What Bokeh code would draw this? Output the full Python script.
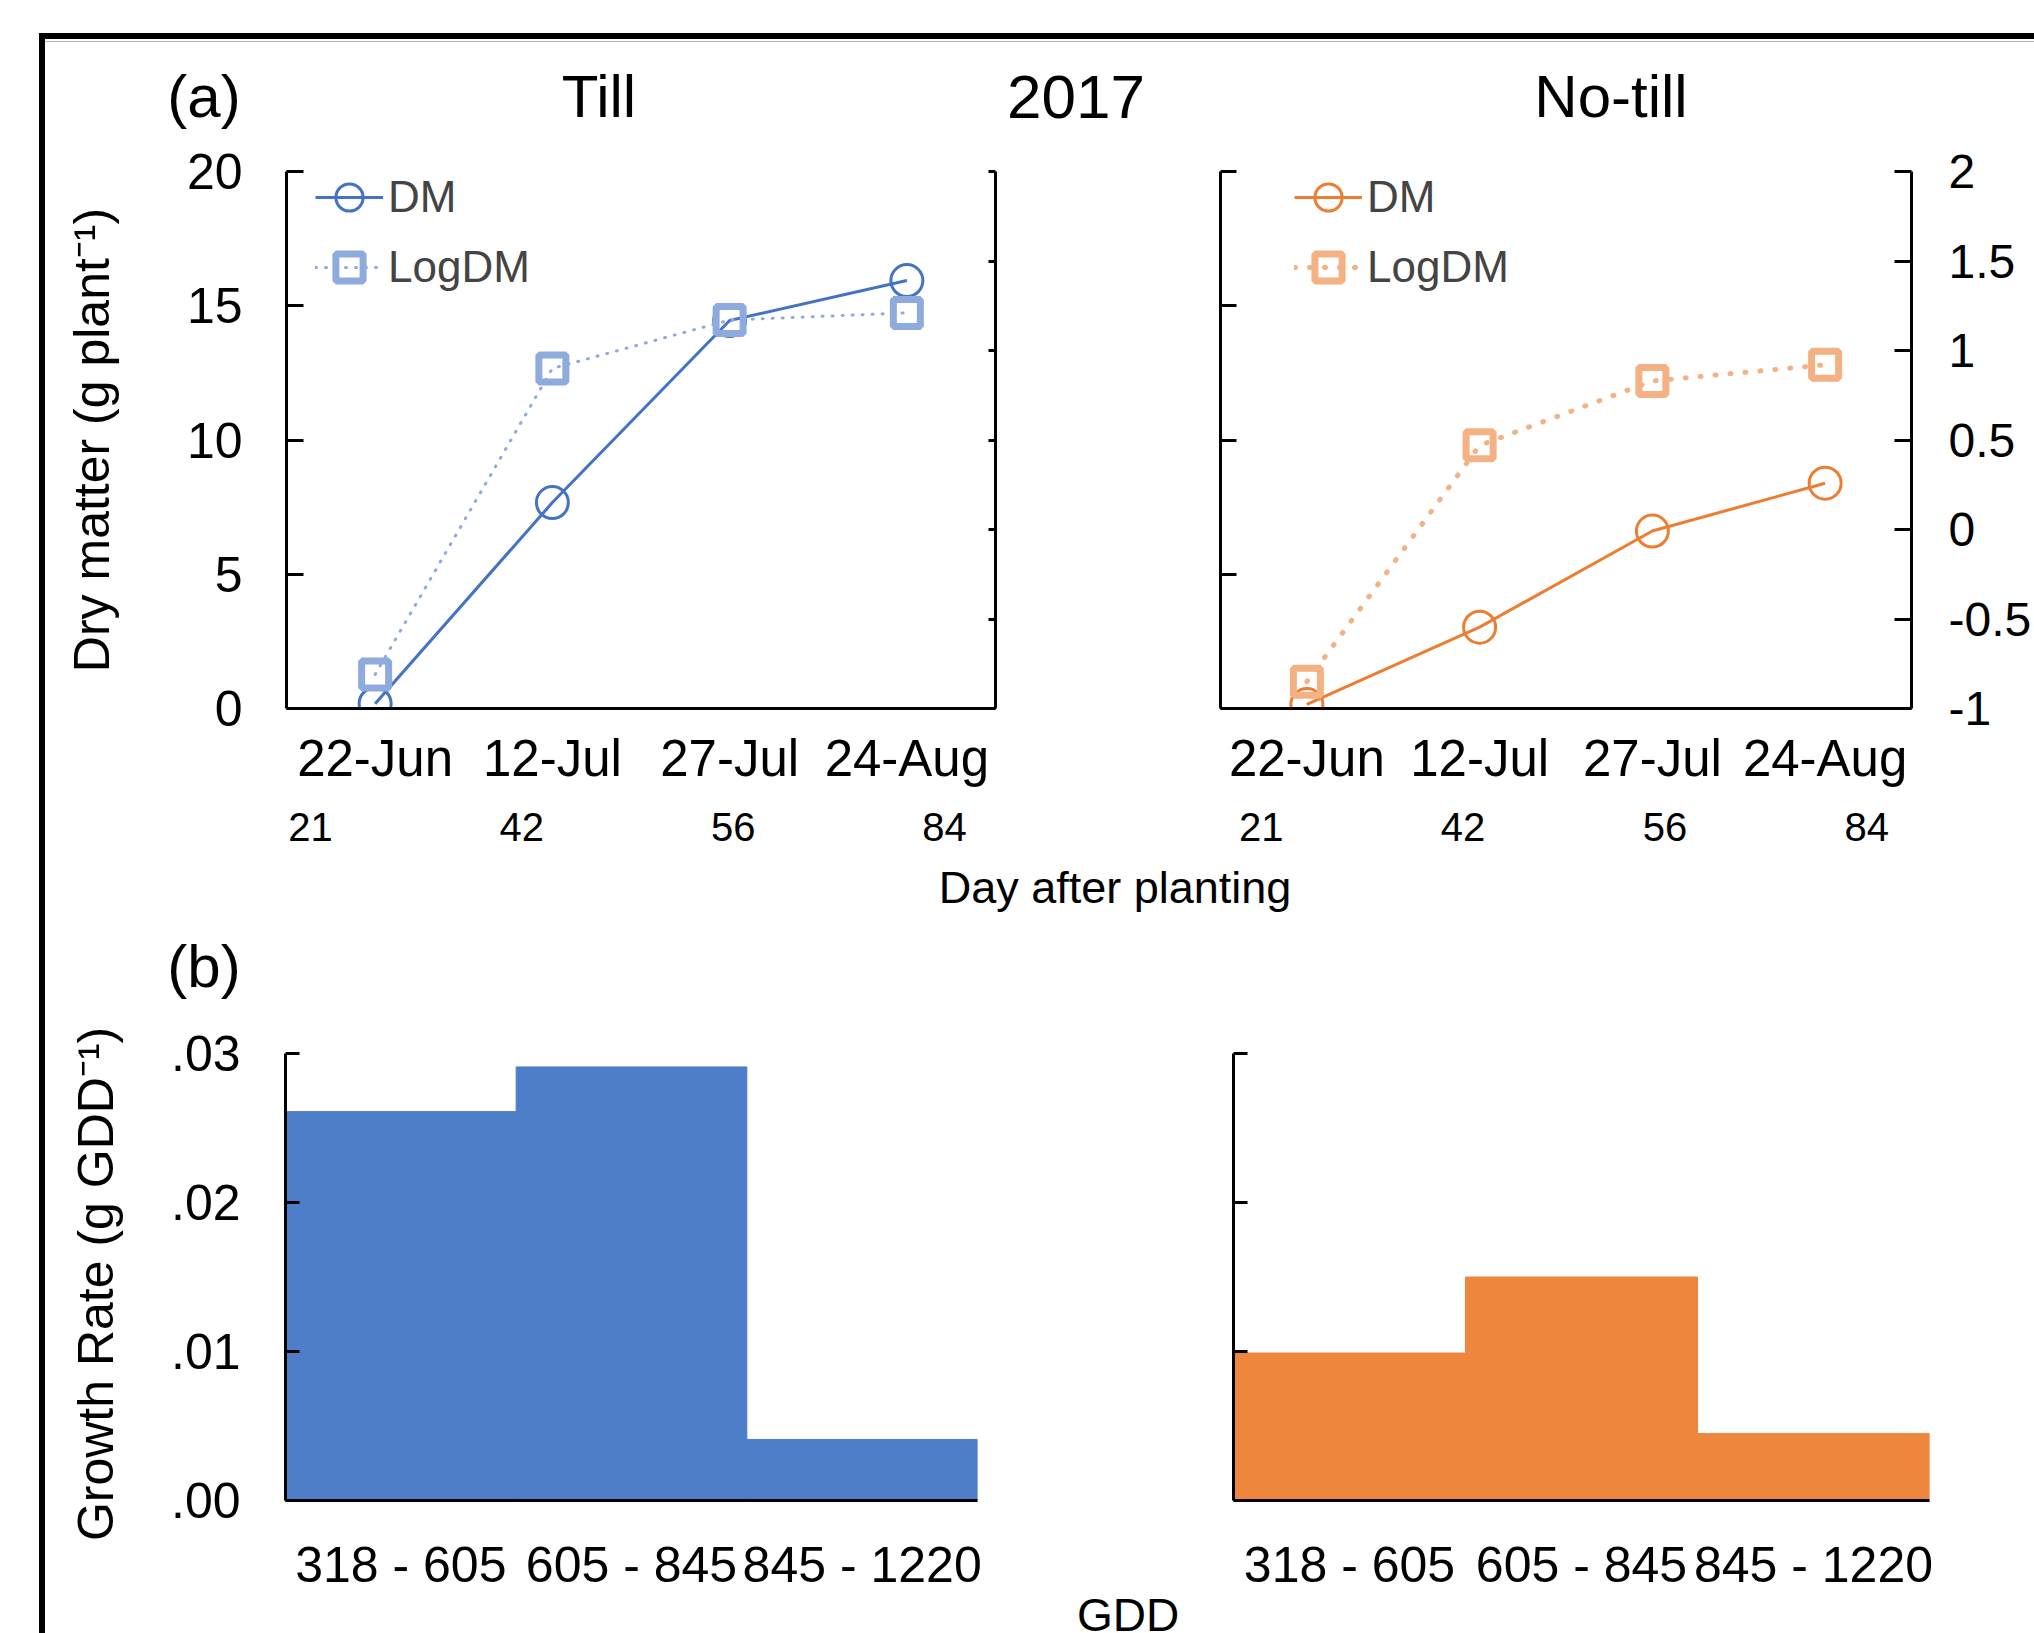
from bokeh.plotting import figure
from bokeh.models import (FactorRange, Range1d, LinearAxis, CategoricalAxis, FixedTicker,
                          Legend, LegendItem, Div, Spacer, CustomJSTickFormatter,
                          CustomLabelingPolicy)
from bokeh.layouts import row, column
from bokeh.embed import file_html
from bokeh.resources import INLINE

FONT = "Liberation Sans"

# ---------------- data ----------------
dates = ["22-Jun", "12-Jul", "27-Jul", "24-Aug"]
days = ["21", "42", "56", "84"]
till_dm = [0.18, 7.67, 14.45, 15.94]
till_logdm = [-0.81, 0.90, 1.17, 1.21]
notill_dm = [0.15, 3.03, 6.61, 8.39]
notill_logdm = [-0.85, 0.47, 0.83, 0.92]
gdd = ["318 - 605", "605 - 845", "845 - 1220"]
till_rate = [0.0261, 0.0291, 0.0041]
notill_rate = [0.0099, 0.0150, 0.0045]
dm_ticks = [0, 5, 10, 15, 20]
log_ticks = [-1, -0.5, 0, 0.5, 1, 1.5, 2]
rate_ticks = [0, 0.01, 0.02, 0.03]

BLUE = "#4472C4"
BLUE_L = "#8FAADC"
ORANGE = "#ED7D31"
ORANGE_L = "#F4B183"
BAR_BLUE = "#4E7DC9"
BAR_ORANGE = "#EE873D"

idx = list(range(len(dates)))          # category positions of the sampling dates


def style_axis(ax, tick_in, size, standoff):
    ax.axis_line_color = "black"
    ax.axis_line_width = 3
    ax.major_tick_in = tick_in
    ax.major_tick_out = 0
    ax.major_tick_line_width = 3
    ax.major_tick_line_color = "black" if tick_in else None
    ax.minor_tick_line_color = None
    ax.major_label_text_font = FONT
    ax.major_label_standoff = standoff
    ax.major_label_text_color = "black"
    if size:
        ax.major_label_text_font_size = f"{size}px"
    else:
        # spine with tick marks only: no tick labels at all
        ax.major_label_text_font_size = "0px"
        ax.major_label_policy = CustomLabelingPolicy(code="return []")


def label_axis(p, text, bounds, standoff):
    """An invisible outer axis that only carries the y-axis title."""
    ax = LinearAxis(ticker=FixedTicker(ticks=[]), bounds=bounds, axis_label=text)
    ax.axis_line_color = None
    ax.major_tick_line_color = None
    ax.minor_tick_line_color = None
    ax.major_label_standoff = 0
    ax.major_label_text_font_size = "0px"
    ax.axis_label_standoff = standoff
    ax.axis_label_text_font = FONT
    ax.axis_label_text_font_size = "50px"
    ax.axis_label_text_font_style = "normal"
    ax.axis_label_text_color = "black"
    p.add_layout(ax, "left")


def base_fig(xr, yr, w, h, left, right, top, bottom):
    p = figure(x_range=xr, y_range=yr, width=w, height=h, output_backend="svg",
               toolbar_location=None, tools="", x_axis_location=None, y_axis_location=None,
               min_border_left=left, min_border_right=right,
               min_border_top=top, min_border_bottom=bottom)
    p.outline_line_color = None
    p.grid.visible = False
    p.background_fill_color = None
    return p


def line_panel(dm, logdm, c_dm, c_log, log_width, log_dash, w, left, right, top,
               day_range, show_left, show_right, right_tick, left_tick, legend_x):
    p = base_fig(Range1d(-0.5, len(dates) - 0.5), Range1d(0, 20), w, 729,
                 left, right, top, 152)
    p.extra_y_ranges = {"log": Range1d(-1, 2)}
    p.extra_x_ranges = {"days": Range1d(*day_range)}

    la = LinearAxis(ticker=FixedTicker(ticks=dm_ticks))
    style_axis(la, left_tick, 50 if show_left else 0, 44 if show_left else 0)
    p.add_layout(la, "left")
    if show_left:
        label_axis(p, "Dry matter (g plant\u207b\u00b9)", (0, 18.5), 64)

    ra = LinearAxis(y_range_name="log", ticker=FixedTicker(ticks=log_ticks),
                    formatter=CustomJSTickFormatter(code="return tick.toString();"))
    style_axis(ra, right_tick, 48 if show_right else 0, 37 if show_right else 0)
    p.add_layout(ra, "right")

    ba = LinearAxis(ticker=FixedTicker(ticks=idx),
                    major_label_overrides={i: d for i, d in zip(idx, dates)})
    style_axis(ba, 0, 51, 21)
    p.add_layout(ba, "below")

    da = LinearAxis(x_range_name="days", ticker=FixedTicker(ticks=idx),
                    major_label_overrides={i: d for i, d in zip(idx, days)})
    style_axis(da, 0, 40, 23)
    da.axis_line_color = None
    p.add_layout(da, "below")

    r1 = p.line(idx, dm, line_color=c_dm, line_width=3)
    r2 = p.scatter(idx, dm, marker="circle", size=32, line_color=c_dm, line_width=3,
                   fill_color=None)
    r3 = p.line(idx, logdm, line_color=c_log, line_width=log_width, line_dash=log_dash,
                line_cap="round", y_range_name="log")
    r4 = p.scatter(idx, logdm, marker="square", size=27, line_color=c_log, line_width=7,
                   fill_color=None, y_range_name="log")
    leg = Legend(items=[LegendItem(label="DM", renderers=[r1, r2]),
                        LegendItem(label="LogDM", renderers=[r3, r4])],
                 location=(legend_x, 406), glyph_width=68, glyph_height=70, label_height=70,
                 spacing=0, padding=0, margin=0, label_standoff=5,
                 label_text_font=FONT, label_text_font_size="44px",
                 border_line_color=None, background_fill_alpha=0)
    p.add_layout(leg)
    return p


a1 = line_panel(till_dm, till_logdm, BLUE, BLUE_L, 3, "1 9", 955, 241, 5, 40,
                (-0.1136, 3.2413), True, False, 7, 17, 29)
a2 = line_panel(notill_dm, notill_logdm, ORANGE, ORANGE_L, 5, "1 14", 1034, 220, 120, 29,
                (-0.2023, 3.222), False, True, 17, 16, 74)


def bar_panel(vals, color, w, left, right, top, bottom, show_left):
    p = base_fig(FactorRange(factors=gdd), Range1d(0, 0.03), w, 597, left, right, top, bottom)
    p.vbar(x=gdd, top=vals, width=1.0, fill_color=color, line_color=color, line_width=1)
    la = LinearAxis(ticker=FixedTicker(ticks=rate_ticks),
                    formatter=CustomJSTickFormatter(code="return tick.toFixed(2).replace(/^0/, '');"))
    style_axis(la, 14, 50 if show_left else 0, 45 if show_left else 0)
    p.add_layout(la, "left")
    if show_left:
        label_axis(p, "Growth Rate  (g GDD\u207b\u00b9)", (0.002, 0.03), 44)
    ba = CategoricalAxis()
    style_axis(ba, 0, 50, 36)
    p.add_layout(ba, "below")
    return p


b1 = bar_panel(till_rate, BAR_BLUE, 955, 240, 23, 49, 98, True)
b2 = bar_panel(notill_rate, BAR_ORANGE, 1034, 233, 105, 52, 95, False)


def block(w, h, color):
    return Div(text="", width=w, height=h, margin=0, styles={"background-color": color})


def text_div(text, size, w, h, lh):
    return Div(text=text, width=w, height=h, margin=0,
               styles={"font-family": FONT, "font-size": f"{size}px", "line-height": f"{lh}px",
                       "text-align": "center", "color": "black", "white-space": "nowrap"})


def sp(w, h):
    return Spacer(width=w, height=h, margin=0)


title_row = row(sp(59, 64), text_div("(a)", 60, 200, 64, 60),
                sp(195, 64), text_div("Till", 60, 200, 64, 60),
                sp(277, 64), text_div("2017", 62, 200, 64, 60),
                sp(335, 64), text_div("No-till", 60, 200, 64, 60))

inner = column(
    block(1989, 6, "black"),
    block(1989, 2, "white"),
    block(1989, 1, "#b4b4b4"),
    sp(1989, 25),
    title_row,
    row(a1, a2),
    row(sp(770, 56), text_div("Day after planting", 45, 600, 56, 56)),
    sp(1989, 21),
    row(sp(59, 64), text_div("(b)", 60, 200, 64, 60)),
    row(b1, b2),
    row(sp(983, 35), text_div("GDD", 46, 200, 35, 35)),
)
layout = column(
    sp(2034, 33),
    row(sp(39, 1600), block(6, 1600, "black"), inner),
)

open("out.html", "w").write(file_html(layout, INLINE))
